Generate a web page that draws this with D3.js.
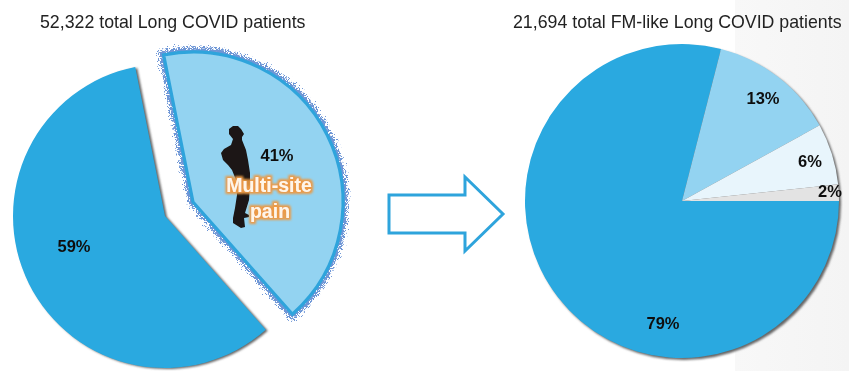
<!DOCTYPE html>
<html><head><meta charset="utf-8">
<style>html,body{margin:0;padding:0;background:#fff}svg{display:block}text{font-family:"Liberation Sans",Arial,sans-serif}</style>
<script src="https://cdn.jsdelivr.net/npm/d3@7"></script></head><body><svg id="c" width="849" height="371"></svg>
<script>
const leftLabels=["41%","59%"];
const leftValues=[41.6,58.4];
const rightLabels=["79%","13%","6%","2%"];
const rightValues=[79,13,6.3,1.7];
const leftColors=["#93d3f1","#29a9e0"];
const rightColors=["#29a9e0","#93d3f1","#e8f5fc","#e3e3e3"];
const leftTitle="52,322 total Long COVID patients";
const rightTitle="21,694 total FM-like Long COVID patients";
const calloutLines=["Multi-site","pain"];
const figure=[[233,126],[238,126],[241,129],[244,134],[242,137],[242,140],[246,150],[248,160],[250,173],[250,185],[249,200],[245,213],[249,215],[249,217],[244,218],[245,227],[241,228],[233,223],[233,218],[235,208],[237,195],[236,180],[232,170],[228,165],[223,160],[221,153],[224,149],[231,145],[233,139],[229,134],[229,129]];
const arrow=[[389,195],[465,195],[465,177],[503,214],[465,251],[465,233],[389,233]];

const svg=d3.select("#c");
const defs=svg.append("defs");
const soft=defs.append("filter").attr("id","soft").attr("filterUnits","userSpaceOnUse").attr("x",0).attr("y",0).attr("width",849).attr("height",371);
soft.append("feGaussianBlur").attr("stdDeviation",0.5);
const shadow=defs.append("filter").attr("id","shadow").attr("x","-10%").attr("y","-10%").attr("width","120%").attr("height","120%");
shadow.append("feGaussianBlur").attr("stdDeviation",1.2);
const halo=defs.append("filter").attr("id","halo").attr("x","-15%").attr("y","-15%").attr("width","130%").attr("height","130%");
halo.append("feTurbulence").attr("type","fractalNoise").attr("baseFrequency",1.1).attr("numOctaves",2).attr("seed",4).attr("result","n");
halo.append("feDisplacementMap").attr("in","SourceGraphic").attr("in2","n").attr("scale",15).attr("xChannelSelector","R").attr("yChannelSelector","G");
halo.append("feGaussianBlur").attr("stdDeviation",0.6);
const bgGrad=defs.append("linearGradient").attr("id","bg");
bgGrad.append("stop").attr("offset",0).attr("stop-color","#f8f8f8");
bgGrad.append("stop").attr("offset",1).attr("stop-color","#f4f4f4");
const glow=defs.append("filter").attr("id","glow").attr("x","-20%").attr("y","-30%").attr("width","140%").attr("height","160%");
glow.append("feMorphology").attr("in","SourceAlpha").attr("operator","dilate").attr("radius",1.5).attr("result","d");
glow.append("feGaussianBlur").attr("in","d").attr("stdDeviation",1).attr("result","b");
glow.append("feFlood").attr("flood-color","#eb9a45");
glow.append("feComposite").attr("in2","b").attr("operator","in").attr("result","o");
const m=glow.append("feMerge");m.append("feMergeNode").attr("in","o");m.append("feMergeNode").attr("in","SourceGraphic");

svg.append("rect").attr("x",735).attr("y",0).attr("width",114).attr("height",371).attr("fill","url(#bg)");
const root=svg.append("g").attr("filter","url(#soft)");
const deg=Math.PI/180;

function label(g,t,x,y,size,fill,weight){
  return g.append("text").attr("x",x).attr("y",y).attr("text-anchor","middle").attr("dominant-baseline","central")
    .attr("font-size",size).attr("font-weight",weight||"bold").attr("fill",fill||"#111").text(t);
}

// left pie
const lr=152, lCenter=[165,216], lExploded=[193,202];
const lPie=d3.pie().sort(null).startAngle(-11.3*deg).endAngle(348.7*deg)(leftValues);
const lightSlice=lPie[0], blueSlice=lPie[1];
const lArc=d3.arc().innerRadius(0).outerRadius(lr);
const lightArc=d3.arc().innerRadius(0).outerRadius(lr-2);
const lg=root.append("g");
lg.append("path").attr("transform",`translate(${lCenter[0]+2},${lCenter[1]+1})`).attr("d",lArc(blueSlice)).attr("fill","#666").attr("filter","url(#shadow)");
lg.append("path").attr("transform",`translate(${lCenter})`).attr("d",lArc(blueSlice)).attr("fill",leftColors[1]);
const lightT=`translate(${lExploded})`;
lg.append("path").attr("transform",lightT).attr("d",lightArc(lightSlice)).attr("fill","none").attr("stroke","#3f74c8").attr("stroke-width",9).attr("stroke-opacity",0.75).attr("filter","url(#halo)");
lg.append("path").attr("transform",lightT).attr("d",lightArc(lightSlice)).attr("fill",leftColors[0]).attr("stroke","#2fa4dc").attr("stroke-width",3.2).attr("stroke-linejoin","miter");

// figure and its callout
root.append("path").attr("d",d3.line().curve(d3.curveLinearClosed)(figure)).attr("fill","#1a1513");
label(root,leftLabels[1],74,246,16.5);
label(root,leftLabels[0],277,155,16.5);
const co=root.append("g").attr("filter","url(#glow)");
label(co,calloutLines[0],269,185,19.5,"#fff6e8");
label(co,calloutLines[1],270,211,19.5,"#fff6e8");

// arrow
root.append("path").attr("d",d3.line().curve(d3.curveLinearClosed)(arrow)).attr("fill","#fff").attr("stroke","#2fa4dc").attr("stroke-width",3);

// right pie
const rr=157, rCenter=[682,201];
const rPie=d3.pie().sort(null).startAngle(90*deg).endAngle(450*deg)(rightValues);
const rArc=d3.arc().innerRadius(0).outerRadius(rr);
const rg=root.append("g").attr("transform",`translate(${rCenter})`);
rg.append("circle").attr("cx",2).attr("cy",2).attr("r",rr).attr("fill","#666").attr("filter","url(#shadow)");
rg.selectAll("path.s").data(rPie).join("path").attr("class","s").attr("d",rArc).attr("fill",(d,i)=>rightColors[i]);
label(root,rightLabels[0],663,323,16.5);
label(root,rightLabels[1],763,98,16.5);
label(root,rightLabels[2],810,161,16.5);
label(root,rightLabels[3],830,191,16.5);

// titles
root.append("text").attr("x",40).attr("y",28).attr("font-size",17.75).attr("fill","#222").text(leftTitle);
root.append("text").attr("x",513).attr("y",28).attr("font-size",17.75).attr("fill","#222").text(rightTitle);
</script>
</body></html>
